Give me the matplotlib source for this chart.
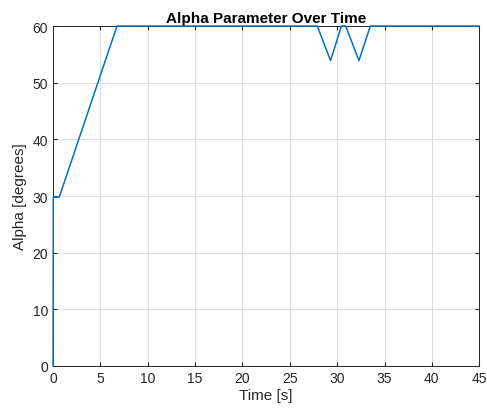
import matplotlib
matplotlib.use("Agg")
import matplotlib.pyplot as plt

# time [s] and alpha [deg] breakpoints
t = [0.0, 0.02, 0.65, 6.75, 27.9, 29.3, 30.45, 30.9, 32.3, 33.5, 45.0]
alpha = [0.0, 29.8, 29.8, 60.0, 60.0, 53.9, 60.0, 60.0, 53.9, 60.0, 60.0]

plt.rcParams["font.family"] = ["Liberation Sans", "DejaVu Sans"]

fig = plt.figure(figsize=(4.87, 4.10), dpi=100)
ax = fig.add_axes([0.109, 0.105, 0.875, 0.829])

ax.plot(t, alpha, color=(0, 0.447, 0.741), lw=1.1, clip_on=False, zorder=5)

ax.set_xlim(0, 45)
ax.set_ylim(0, 60)
ax.set_xticks(range(0, 46, 5))
ax.set_yticks(range(0, 61, 10))
ax.grid(True, color="#dcdcdc", lw=0.7)
ax.set_axisbelow(True)
ax.tick_params(direction="in", length=3, labelsize=10, colors="#262626",
               top=True, right=True)
for s in ax.spines.values():
    s.set_color("#262626")
    s.set_linewidth(0.7)

ax.set_xlabel("Time [s]", fontsize=11, color="#262626", labelpad=2)
ax.set_ylabel("Alpha [degrees]", fontsize=11, color="#262626", labelpad=4)
ax.set_title("Alpha Parameter Over Time", fontsize=11, fontweight="bold", pad=3)

fig.savefig("out.png", dpi=100)
